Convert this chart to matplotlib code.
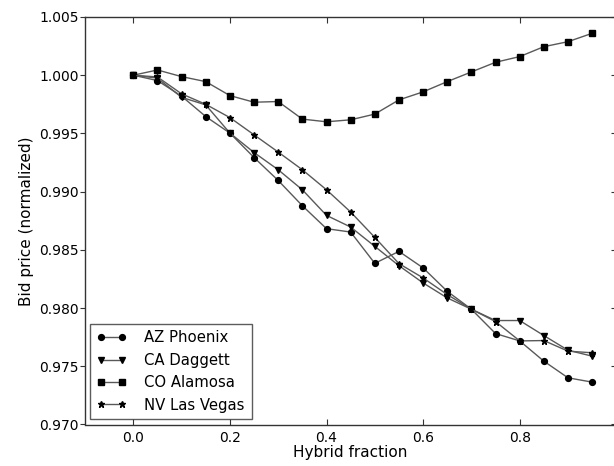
import matplotlib
matplotlib.use("Agg")
import matplotlib.pyplot as plt
from matplotlib.lines import TICKLEFT

hybrid_fraction = [0.00, 0.05, 0.10, 0.15, 0.20, 0.25, 0.30, 0.35, 0.40, 0.45,
                   0.50, 0.55, 0.60, 0.65, 0.70, 0.75, 0.80, 0.85, 0.90, 0.95]

az_phoenix = [1.0000, 0.99954, 0.9982, 0.99645, 0.99503, 0.99293, 0.99096, 0.98879, 0.98682, 0.98653,
              0.98384, 0.98487, 0.98345, 0.98144, 0.9799, 0.97781, 0.97718, 0.97544, 0.97401, 0.97364]
ca_daggett = [1.0000, 0.99975, 0.9981, 0.99745, 0.99503, 0.99336, 0.99188, 0.99016, 0.98796, 0.98696,
              0.9853, 0.98364, 0.98216, 0.98087, 0.9799, 0.97893, 0.97893, 0.97764, 0.97638, 0.97587]
co_alamosa = [1.0000, 1.00045, 0.99988, 0.99945, 0.99825, 0.99768, 0.99774, 0.99623, 0.9960, 0.99617,
              0.99666, 0.99788, 0.99857, 0.99945, 1.00028, 1.00111, 1.0016, 1.00245, 1.00288, 1.0036]
nv_las_vegas = [1.0000, 0.99985, 0.9984, 0.9975, 0.99636, 0.99488, 0.9934, 0.99188, 0.99016, 0.98825,
                0.98607, 0.98382, 0.98259, 0.98116, 0.9799, 0.97884, 0.97718, 0.97721, 0.9763, 0.97616]

series = [
    ("AZ Phoenix", az_phoenix, "o", 4.2),
    ("CA Daggett", ca_daggett, "v", 5.0),
    ("CO Alamosa", co_alamosa, "s", 5.0),
    ("NV Las Vegas", nv_las_vegas, "*", 5.0),
]

x_ticks = [0.0, 0.2, 0.4, 0.6, 0.8]
y_ticks = [0.970, 0.975, 0.980, 0.985, 0.990, 0.995, 1.000, 1.005]

fig = plt.figure(figsize=(6.14, 4.66), dpi=100)
ax = fig.add_axes([85 / 614, 41.5 / 466, (616.3 - 85) / 614, (424.5 - 17) / 466])

for label, vals, mk, ms in series:
    ax.plot(hybrid_fraction, vals, color="0.35", linewidth=1.0, marker=mk,
            markersize=ms, markerfacecolor="black", markeredgecolor="black",
            label=label)

ax.set_xlim(-0.1, 1.0)
ax.set_ylim(0.970, 1.005)
ax.set_xticks(x_ticks)
ax.set_xticklabels([f"{t:.1f}" for t in x_ticks])
ax.set_yticks(y_ticks)
ax.set_yticklabels([f"{t:.3f}" for t in y_ticks])

for s in ax.spines.values():
    s.set_color("0.2")
    s.set_linewidth(1.0)

ax.tick_params(axis="x", direction="in", top=True, length=4, labelsize=10, pad=5, color="0.2")
ax.tick_params(axis="y", direction="out", left=True, right=True, length=3.5,
               labelsize=10, pad=1, color="0.2")
for tick in ax.yaxis.get_major_ticks():
    tick.tick2line.set_marker(TICKLEFT)

ax.set_xlabel("Hybrid fraction", fontsize=11, labelpad=0)
ax.set_ylabel("Bid price (normalized)", fontsize=11, labelpad=4)

leg = ax.legend(loc="lower left", numpoints=2, fontsize=10.7, frameon=True,
                fancybox=False, borderaxespad=0.35, handlelength=2.0,
                labelspacing=0.5, borderpad=0.45, handletextpad=1.2)
leg.get_frame().set_edgecolor("0.2")
leg.get_frame().set_linewidth(1.0)

fig.savefig("out.png", dpi=100)
